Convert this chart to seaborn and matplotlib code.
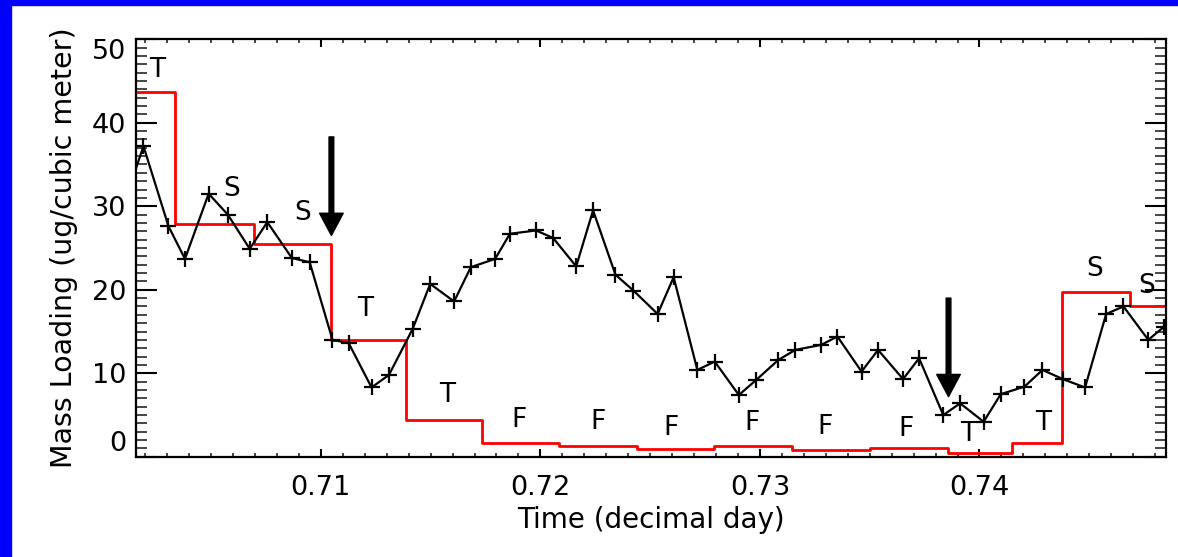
import numpy as np
import pandas as pd
import matplotlib
matplotlib.use("Agg")
import matplotlib.pyplot as plt
from matplotlib.ticker import MultipleLocator
import seaborn as sns

# ---- data ----
time_points = [0.70100, 0.70192, 0.70306, 0.70381, 0.70489, 0.70576, 0.70676, 0.70756, 0.70868,
               0.70949, 0.71053, 0.71127, 0.71231, 0.71310, 0.71418, 0.71498, 0.71607,
               0.71683, 0.71794, 0.71861, 0.71980, 0.72058, 0.72163, 0.72240, 0.72342,
               0.72424, 0.72534, 0.72607, 0.72715, 0.72794, 0.72904, 0.72983, 0.73084,
               0.73161, 0.73279, 0.73353, 0.73463, 0.73538, 0.73652, 0.73725, 0.73835,
               0.73912, 0.74019, 0.74097, 0.74205, 0.74287, 0.74380, 0.74481, 0.74577,
               0.74656, 0.74769, 0.74842]
mass_loading = [30.0, 37.2, 27.6, 23.7, 31.5, 29.0, 24.9, 28.1, 23.8,
                23.3, 14.0, 13.6, 8.3, 9.8, 15.3, 20.7, 18.6,
                22.7, 23.7, 26.7, 27.1, 26.2, 22.8, 29.5, 21.8,
                19.9, 17.1, 21.5, 10.4, 11.4, 7.4, 9.2, 11.6,
                12.8, 13.4, 14.4, 10.2, 12.8, 9.3, 11.8, 5.0,
                6.4, 4.2, 7.5, 8.4, 10.4, 9.3, 8.3, 17.1,
                18.0, 14.0, 15.6]

step_edges = [0.7010, 0.70337, 0.70694, 0.71048, 0.71389, 0.71733, 0.72083, 0.72442,
              0.72790, 0.73146, 0.73502, 0.73856, 0.74147, 0.74377, 0.74685, 0.7500]
step_values = [43.7, 27.9, 25.5, 14.0, 4.4, 1.7, 1.3, 0.9, 1.3, 0.8, 1.1, 0.4, 1.6, 19.7, 18.1]

class_labels = ["T", "S", "S", "T", "T", "F", "F", "F", "F", "F", "F", "T", "T", "S", "S"]
class_x = [0.70254, 0.70594, 0.70917, 0.71200, 0.71577, 0.71904, 0.72263, 0.72593,
           0.72965, 0.73297, 0.73664, 0.73947, 0.74292, 0.74523, 0.74763]
class_y = [46.3, 32.1, 29.2, 17.7, 7.4, 4.4, 4.2, 3.5, 4.0, 3.6, 3.3, 2.7, 4.0, 22.5, 20.5]

arrow_x = [0.71048, 0.73859]
arrow_top = [38.3, 19.0]
arrow_tip = [26.5, 7.2]

x_ticks = [0.71, 0.72, 0.73, 0.74]
x_tick_labels = ["0.71", "0.72", "0.73", "0.74"]
y_ticks = [0, 10, 20, 30, 40, 50]

x_label = "Time (decimal day)"
y_label = "Mass Loading (ug/cubic meter)"

# ---- style ----
sns.set_style("white")
plt.rcParams["font.family"] = ["DejaVu Sans"]

fig = plt.figure(figsize=(11.78, 5.57), dpi=100, facecolor="white")
# blue frame on top and left edges
fig.patches.append(plt.Rectangle((0, 0), 11 / 1178, 1, transform=fig.transFigure,
                                 color="#0000ff", zorder=-1))
fig.patches.append(plt.Rectangle((0, 1 - 5 / 557), 1, 5 / 557, transform=fig.transFigure,
                                 color="#0000ff", zorder=-1))

ax = fig.add_axes([136 / 1178, 1 - 456.8 / 557, (1166.3 - 136) / 1178, (456.8 - 39.2) / 557])

df_pts = pd.DataFrame({"time": time_points, "mass": mass_loading})
step_df = pd.DataFrame({"time": step_edges, "mass": step_values + [step_values[-1]]})

sns.lineplot(data=step_df, x="time", y="mass", ax=ax, color="#ff0000", lw=2.0,
             drawstyle="steps-post", estimator=None, sort=False, zorder=2)
sns.lineplot(data=df_pts, x="time", y="mass", ax=ax, color="black", lw=1.6,
             marker="+", markersize=11, markeredgewidth=1.6, markeredgecolor="black",
             estimator=None, sort=False, zorder=3)

for lab, tx, ty in zip(class_labels, class_x, class_y):
    ax.text(tx, ty, lab, ha="center", va="center", fontsize=19, color="black", zorder=4)

for axx, top, tip in zip(arrow_x, arrow_top, arrow_tip):
    ax.annotate("", xy=(axx, tip), xytext=(axx, top),
                arrowprops=dict(facecolor="black", edgecolor="black", width=3.4,
                                headwidth=17, headlength=16, shrink=0.0),
                zorder=5)

ax.set_xlim(0.70158, 0.74851)
ax.set_ylim(0, 50)
ax.set_xticks(x_ticks, labels=x_tick_labels)
ax.set_yticks(y_ticks, labels=[str(v) for v in y_ticks])
ax.xaxis.set_minor_locator(MultipleLocator(0.001))
ax.yaxis.set_minor_locator(MultipleLocator(1))

ax.tick_params(axis="x", which="major", direction="in", length=6, width=1.5,
               top=True, bottom=True, labelsize=19.5, pad=13, colors="black")
ax.tick_params(axis="x", which="minor", direction="in", length=3, width=1.2,
               top=True, bottom=True)
ax.tick_params(axis="y", which="major", direction="in", length=15, width=1.5,
               left=True, right=True, labelsize=19.5, pad=7, colors="black")
ax.tick_params(axis="y", which="minor", direction="in", length=8, width=1.2,
               left=True, right=True)

for lbl in ax.get_yticklabels():
    if lbl.get_text() == "0":
        lbl.set_verticalalignment("bottom")
    elif lbl.get_text() == "50":
        lbl.set_verticalalignment("top")

for sp in ax.spines.values():
    sp.set_visible(True)
    sp.set_linewidth(1.6)
    sp.set_color("black")

ax.set_xlabel(x_label, fontsize=20, labelpad=4, color="black")
ax.set_ylabel(y_label, fontsize=20.5, labelpad=10, color="black")

fig.savefig("out.png", dpi=100, facecolor="white")
